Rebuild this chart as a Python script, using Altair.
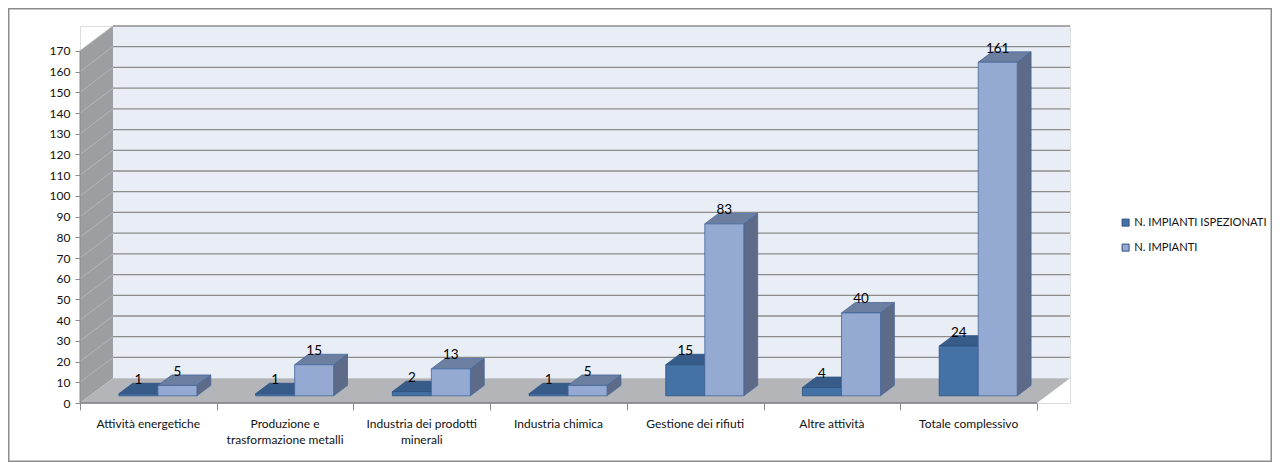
import altair as alt
import pandas as pd

# ---------------- data ----------------
categories = [
    "Attività energetiche",
    "Produzione e\ntrasformazione metalli",
    "Industria dei prodotti\nminerali",
    "Industria chimica",
    "Gestione dei rifiuti",
    "Altre attività",
    "Totale complessivo",
]
ispezionati = [1, 1, 2, 1, 15, 4, 24]
impianti = [5, 15, 13, 5, 83, 40, 161]
series_names = ["N. IMPIANTI ISPEZIONATI", "N. IMPIANTI"]
y_ticks = list(range(0, 171, 10))
Y_MAX = 170

# ---------------- geometry (pseudo 3D) ----------------
N = len(categories)
DX = 0.2414      # full depth, x units
DY = 12.0        # full depth, value units
F0 = 0.29        # bar front plane depth fraction
FD = 0.42        # bar depth fraction
W = 0.2853       # bar width in category units
ddx, ddy = FD * DX, FD * DY

PW, PH = 990, 377
xs = alt.Scale(domain=[0, N + DX], nice=False, zero=False)
ys = alt.Scale(domain=[0, Y_MAX + DY], nice=False, zero=False)

FONT = "Lato"
DARK_FRONT, DARK_TOP, DARK_SIDE, DARK_STROKE = "#4472A7", "#375C8A", "#2F4E75", "#2C5080"
LIGHT_FRONT, LIGHT_TOP, LIGHT_SIDE, LIGHT_STROKE = "#95AAD2", "#6C7FA0", "#5D6B88", "#45679A"

x_axis = alt.Axis(values=list(range(N + 1)), labels=False, title=None, domain=False,
                  tickSize=7, tickColor="#8a8a8a", grid=False)
y_axis = alt.Axis(values=y_ticks, title=None, domain=False, grid=False, tickSize=5,
                  tickColor="#8a8a8a", labelFont=FONT, labelFontSize=12,
                  labelColor="#111", labelPadding=5)


def X(f):
    return alt.X(f, type="quantitative", scale=xs, axis=x_axis)


def Y(f):
    return alt.Y(f, type="quantitative", scale=ys, axis=y_axis)


rows = []
for i, c in enumerate(categories):
    rows.append({"idx": i, "cat": c, "s": 0, "series": series_names[0], "value": ispezionati[i]})
    rows.append({"idx": i, "cat": c, "s": 1, "series": series_names[1], "value": impianti[i]})
bars_df = pd.DataFrame(rows)
cat_df = pd.DataFrame({"idx": list(range(N)), "cat": categories})
tick_df = pd.DataFrame({"v": y_ticks})
one = pd.DataFrame({"a": [0]})

# ---------------- walls and floor ----------------
back_wall = alt.Chart(one).transform_calculate(
    x0=f"{DX}", x1=f"{N + DX}", y0=f"{DY}", y1=f"{Y_MAX + DY}"
).mark_rect(fill="#E9EDF6").encode(
    x=X("x0:Q"), x2="x1:Q", y=Y("y0:Q"), y2="y1:Q",
)

back_grid = alt.Chart(tick_df).transform_filter("datum.v > 0").transform_calculate(
    yb=f"datum.v + {DY}", x0=f"{DX}", x1=f"{N + DX}"
).mark_rule(color="#8c8c8c", strokeWidth=1.3).encode(
    x=X("x0:Q"), x2="x1:Q", y=Y("yb:Q")
)

left_wall = alt.Chart(pd.DataFrame({"p": [0, 1]})).transform_calculate(
    px=f"datum.p * {DX}", py=f"datum.p * {DY}", py2=f"{Y_MAX} + datum.p * {DY}"
).mark_area(fill="#9C9EA2", orient="vertical").encode(
    x=X("px:Q"), y=Y("py:Q"), y2="py2:Q"
)

left_grid = alt.Chart(tick_df).transform_filter("datum.v > 0").transform_calculate(
    x0="0", x1=f"{DX}", yb=f"datum.v + {DY}"
).mark_rule(color="#B4B6BA", strokeWidth=1).encode(
    x=X("x0:Q"), x2="x1:Q", y=Y("v:Q"), y2="yb:Q"
)

floor = alt.Chart(pd.DataFrame({"p": [0, 1, 2, 3]})).transform_calculate(
    px=f"datum.p == 0 ? 0 : datum.p == 1 ? {DX} : datum.p == 2 ? {N} : {N + DX}",
    py=f"datum.p < 3 ? 0 : {DY}",
    py2=f"datum.p == 0 ? 0 : {DY}",
).mark_area(fill="#B3B5B9", orient="vertical").encode(
    x=X("px:Q"), y=Y("py:Q"), y2="py2:Q"
)

floor_edge = alt.Chart(one).transform_calculate(x0="0", x1=f"{N}", y0="0").mark_rule(
    color="#7f7f7f", strokeWidth=1.5
).encode(x=X("x0:Q"), x2="x1:Q", y=Y("y0:Q"))

left_edge = alt.Chart(one).transform_calculate(x0="0", y0="0", y1=f"{Y_MAX}").mark_rule(
    color="#8a8a8a", strokeWidth=1
).encode(x=X("x0:Q"), y=Y("y0:Q"), y2="y1:Q")

# ---------------- bars ----------------
base = alt.Chart(bars_df).transform_calculate(
    x0=f"datum.idx + 0.5 + {F0 * DX} - {W} + datum.s * {W}",
).transform_calculate(
    x1=f"datum.x0 + {W}",
    yb=f"{F0 * DY}",
).transform_calculate(
    yt="datum.yb + datum.value",
    xm=f"datum.x0 + {W / 2}",
)


def side(s, fill, stroke):
    return base.transform_filter(f"datum.s == {s}").transform_calculate(
        pts="[0, 1]"
    ).transform_flatten(["pts"]).transform_calculate(
        px=f"datum.x1 + datum.pts * {ddx}",
        py=f"datum.yb + datum.pts * {ddy}",
        py2=f"datum.yt + datum.pts * {ddy}",
    ).mark_area(fill=fill, stroke=stroke, strokeWidth=0.8, orient="vertical").encode(
        x=X("px:Q"), y=Y("py:Q"), y2="py2:Q", detail="idx:N"
    )


def top(s, fill, stroke):
    return base.transform_filter(f"datum.s == {s}").transform_calculate(
        pts="[0, 1, 2, 3]"
    ).transform_flatten(["pts"]).transform_calculate(
        px=f"datum.pts == 0 ? datum.x0 : datum.pts == 1 ? datum.x0 + {ddx} : datum.pts == 2 ? datum.x1 : datum.x1 + {ddx}",
        py=f"datum.pts < 3 ? datum.yt : datum.yt + {ddy}",
        py2=f"datum.pts == 0 ? datum.yt : datum.yt + {ddy}",
    ).mark_area(fill=fill, stroke=stroke, strokeWidth=0.8, orient="vertical").encode(
        x=X("px:Q"), y=Y("py:Q"), y2="py2:Q", detail="idx:N"
    )


color = alt.Color(
    "series:N",
    scale=alt.Scale(domain=series_names, range=[DARK_FRONT, LIGHT_FRONT]),
    legend=alt.Legend(title=None, orient="none", legendX=1040, legendY=191,
                      symbolType="square", symbolSize=49, symbolStrokeColor=DARK_STROKE,
                      symbolStrokeWidth=1, labelFont=FONT, labelFontSize=11.2,
                      labelColor="#111", labelOffset=3, rowPadding=12),
)


def front(s, stroke):
    return base.transform_filter(f"datum.s == {s}").mark_rect(stroke=stroke, strokeWidth=0.8).encode(
        x=X("x0:Q"), x2="x1:Q", y=Y("yb:Q"), y2="yt:Q", color=color
    )


labels = base.transform_calculate(ly=f"datum.yt + {ddy}").mark_text(
    baseline="alphabetic", font=FONT, fontSize=13.5, color="#000", dy=1
).encode(x=X("xm:Q"), y=Y("ly:Q"), text="value:Q")

cat_labels = alt.Chart(cat_df).transform_calculate(cx="datum.idx + 0.5").mark_text(
    baseline="alphabetic", align="center", font=FONT, fontSize=12, color="#111",
    lineBreak="\n", lineHeight=16
).encode(x=X("cx:Q"), y=alt.value(PH + 25), text="cat:N")

frame = alt.Chart(one).mark_rect(fill=None, stroke="#8c8c8c", strokeWidth=1.5).encode(
    x=alt.value(-71.25), x2=alt.value(PW + 201.25), y=alt.value(-17.25), y2=alt.value(PH + 58.25)
)

chart = alt.layer(
    back_wall, frame, back_grid, left_wall, left_grid, floor, floor_edge, left_edge,
    side(0, DARK_SIDE, DARK_STROKE), top(0, DARK_TOP, DARK_STROKE), front(0, DARK_STROKE),
    side(1, LIGHT_SIDE, LIGHT_STROKE), top(1, LIGHT_TOP, LIGHT_STROKE), front(1, LIGHT_STROKE),
    labels, cat_labels,
).properties(
    width=PW, height=PH,
    padding={"left": 72, "top": 18, "right": 202, "bottom": 60},
    autosize=alt.AutoSizeParams(type="none"),
).configure_view(stroke=None).configure(background="white")

chart.save("out.html", embed_options={"renderer": "svg", "actions": False})
